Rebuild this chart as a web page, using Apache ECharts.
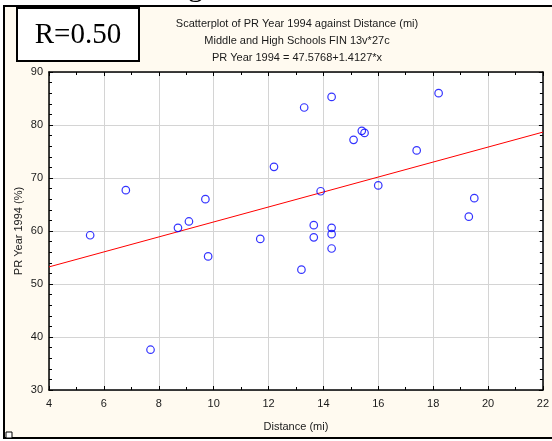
<!DOCTYPE html>
<html>
<head>
<meta charset="utf-8">
<style>
  html, body { margin: 0; padding: 0; background: #ffffff; }
  #chart { width: 552px; height: 441px; }
</style>
<script src="https://cdn.jsdelivr.net/npm/echarts@6/dist/echarts.min.js"></script>
</head>
<body>
<div id="chart"></div>
<script>
// Distance (mi) of each school
const distance = [5.5, 6.8, 7.7, 8.7, 9.1, 9.7, 9.8, 11.7, 12.2, 13.2, 13.3, 13.65, 13.65,
  13.9, 14.3, 14.3, 14.3, 14.3, 15.1, 15.4, 15.5, 16.0, 17.4, 18.2, 19.3, 19.5];
// PR Year 1994 (%) of each school
const prYear1994 = [59.2, 67.7, 37.6, 60.6, 61.8, 66.0, 55.2, 58.5, 72.1, 52.7, 83.3, 61.1, 58.8,
  67.5, 85.3, 60.6, 59.4, 56.7, 77.2, 78.9, 78.5, 68.6, 75.2, 86.0, 62.7, 66.2];

// fitted line: PR Year 1994 = 47.5768 + 1.4127*x
const intercept = 47.5768;
const slope = 1.4127;
const fitRange = [4, 22];

const xTicks = { min: 4, max: 22, interval: 2 };
const yTicks = { min: 30, max: 90, interval: 10 };

const titleLines = [
  'Scatterplot of PR Year 1994 against Distance (mi)',
  'Middle and High Schools FIN 13v*27c',
  'PR Year 1994 = 47.5768+1.4127*x'
];
const rLabel = 'R=0.50';

const points = distance.map((d, i) => [d, prYear1994[i]]);
const fitLine = fitRange.map(x => [x, intercept + slope * x]);

const FONT = 'Liberation Sans, Arial, sans-serif';
const textColor = '#1a1a1a';

function axisBase(show) {
  return {
    axisLine: { show: true, onZero: false, lineStyle: { color: '#000', width: 1.5 } },
    axisTick: { show: true, inside: true, length: 4, lineStyle: { color: '#000', width: 1 } },
    minorTick: { show: true, length: 3, lineStyle: { color: '#000', width: 1 } },
    axisLabel: show
      ? { show: true, color: textColor, fontFamily: FONT, fontSize: 11 }
      : { show: false },
  };
}

const chart = echarts.init(document.getElementById('chart'), null, { renderer: 'canvas' });

const option = {
  backgroundColor: 'transparent',
  animation: false,
  grid: { left: 49, right: 8, top: 72, bottom: 51, backgroundColor: '#ffffff', show: true, borderWidth: 0 },
  xAxis: [
    Object.assign(axisBase(true), {
      type: 'value', position: 'bottom',
      min: xTicks.min, max: xTicks.max, interval: xTicks.interval,
      minorTick: { show: true, splitNumber: 2, length: 3, lineStyle: { color: '#000' } },
      splitLine: { show: true, lineStyle: { color: '#d4d4d4', width: 1 } },
      name: 'Distance (mi)', nameLocation: 'middle', nameGap: 31, nameMoveOverlap: false,
      nameTextStyle: { color: textColor, fontFamily: FONT, fontSize: 11 },
    }),
    Object.assign(axisBase(false), {
      type: 'value', position: 'top',
      min: xTicks.min, max: xTicks.max, interval: xTicks.interval,
      minorTick: { show: true, splitNumber: 2, length: 3, lineStyle: { color: '#000' } },
      splitLine: { show: false },
    }),
  ],
  yAxis: [
    Object.assign(axisBase(true), {
      type: 'value', position: 'left',
      min: yTicks.min, max: yTicks.max, interval: yTicks.interval,
      minorTick: { show: true, splitNumber: 5, length: 3, lineStyle: { color: '#000' } },
      splitLine: { show: true, lineStyle: { color: '#d4d4d4', width: 1 } },
      axisLabel: { show: true, color: textColor, fontFamily: FONT, fontSize: 11, margin: 6 },
      name: 'PR Year 1994 (%)', nameLocation: 'middle', nameGap: 25, nameMoveOverlap: false,
      nameTextStyle: { color: textColor, fontFamily: FONT, fontSize: 11 },
    }),
    Object.assign(axisBase(false), {
      type: 'value', position: 'right',
      min: yTicks.min, max: yTicks.max, interval: yTicks.interval,
      minorTick: { show: true, splitNumber: 5, length: 3, lineStyle: { color: '#000' } },
      splitLine: { show: false },
    }),
  ],
  series: [
    {
      type: 'line', data: fitLine, xAxisIndex: 0, yAxisIndex: 0,
      symbol: 'none', silent: true,
      lineStyle: { color: '#ff0000', width: 1 }, z: 2,
    },
    {
      type: 'scatter', data: points, xAxisIndex: 0, yAxisIndex: 0,
      symbol: 'circle', symbolSize: 7.5,
      itemStyle: { color: 'rgba(0,0,0,0)', borderColor: '#0000ff', borderWidth: 1.2 }, z: 3,
    },
  ],
  graphic: [
    // cream panel with its black frame
    { type: 'rect', z: -10, shape: { x: 4, y: 6, width: 560, height: 432 },
      style: { fill: '#fffaf0', stroke: '#000', lineWidth: 2 } },
    // caption glyph above the panel
    { type: 'text', z: -11, style: { x: 188, y: -27, text: 'g', font: '30px "Liberation Serif", serif', fill: '#000' } },
    // correlation box
    { type: 'rect', shape: { x: 17, y: 8, width: 122, height: 53 },
      style: { fill: '#ffffff', stroke: '#000', lineWidth: 2 } },
    { type: 'text', style: { x: 78, y: 35, text: rLabel, align: 'center', verticalAlign: 'middle',
      font: '29px "Liberation Serif", "Times New Roman", serif', fill: '#000' } },
    // title lines
    ...titleLines.map((t, i) => ({
      type: 'text',
      style: { x: 297, y: 24 + i * 17, text: t, align: 'center', verticalAlign: 'middle',
        font: '11px ' + FONT, fill: textColor }
    })),
    // small square marker in the corner
    { type: 'rect', shape: { x: 6, y: 432, width: 6, height: 6 },
      style: { fill: '#ffffff', stroke: '#000', lineWidth: 1 } },
  ],
};

chart.setOption(option);
</script>
</body>
</html>
